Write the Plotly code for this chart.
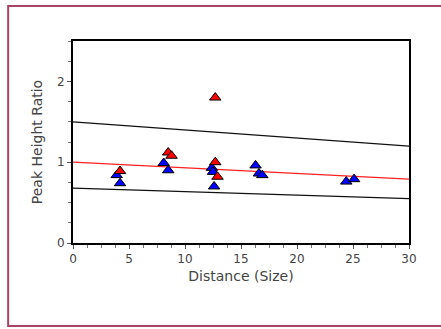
import plotly.graph_objects as go

# Data
red_x = [4.2, 8.5, 8.8, 12.7, 12.7, 12.9]
red_y = [0.89, 1.12, 1.08, 1.80, 1.00, 0.82]
blue_x = [3.9, 4.2, 8.1, 8.5, 12.4, 12.5, 12.6, 16.3, 16.6, 16.9, 24.4, 25.1]
blue_y = [0.84, 0.74, 0.99, 0.90, 0.93, 0.88, 0.70, 0.96, 0.86, 0.84, 0.76, 0.79]
line_x = [0, 30]
upper_y = [1.5, 1.2]
mid_y = [1.0, 0.79]
lower_y = [0.68, 0.55]

fig = go.Figure()
fig.add_trace(go.Scatter(x=line_x, y=upper_y, mode="lines",
                         line=dict(color="#111111", width=1.3), showlegend=False, hoverinfo="skip"))
fig.add_trace(go.Scatter(x=line_x, y=mid_y, mode="lines",
                         line=dict(color="#ff2020", width=1.3), showlegend=False, hoverinfo="skip"))
fig.add_trace(go.Scatter(x=line_x, y=lower_y, mode="lines",
                         line=dict(color="#111111", width=1.3), showlegend=False, hoverinfo="skip"))
fig.add_trace(go.Scatter(x=blue_x, y=blue_y, mode="markers",
                         marker=dict(symbol="triangle-up", size=10, color="#0000ff",
                                     line=dict(color="black", width=1)), showlegend=False))
fig.add_trace(go.Scatter(x=red_x, y=red_y, mode="markers",
                         marker=dict(symbol="triangle-up", size=10, color="#ff0000",
                                     line=dict(color="black", width=1)), showlegend=False))

tick_font = dict(family="DejaVu Sans, sans-serif", size=12, color="#444444")
title_font = dict(family="DejaVu Sans, sans-serif", size=14, color="#444444")

fig.update_layout(
    width=441, height=329,
    margin=dict(l=73, r=32, t=41, b=86),
    paper_bgcolor="white", plot_bgcolor="white",
    font=tick_font,
    shapes=[dict(type="rect", xref="paper", yref="paper",
                 x0=-0.193, x1=1.11, y0=-0.411, y1=1.173,
                 line=dict(color="#a84466", width=2), layer="below")],
    xaxis=dict(range=[0, 30], tickvals=[0, 5, 10, 15, 20, 25, 30],
               ticks="outside", ticklen=4, tickcolor="#555", showgrid=False, zeroline=False,
               showline=True, linecolor="black", linewidth=2, mirror=True,
               tickfont=tick_font,
               minor=dict(dtick=1.25, tick0=0, ticks="outside", ticklen=3, tickcolor="#777"),
               title=dict(text="Distance (Size)", standoff=6, font=title_font)),
    yaxis=dict(range=[0, 2.5], tickvals=[0, 1, 2],
               ticks="outside", ticklen=4, tickcolor="#555", showgrid=False, zeroline=False,
               showline=True, linecolor="black", linewidth=2, mirror=True,
               tickfont=tick_font,
               minor=dict(dtick=0.25, tick0=0, ticks="outside", ticklen=3, tickcolor="#777"),
               title=dict(text="Peak Height Ratio", standoff=11, font=title_font)),
)

fig.write_html("out.html", config={"displayModeBar": False},
               post_script="document.body.style.margin='0';")
